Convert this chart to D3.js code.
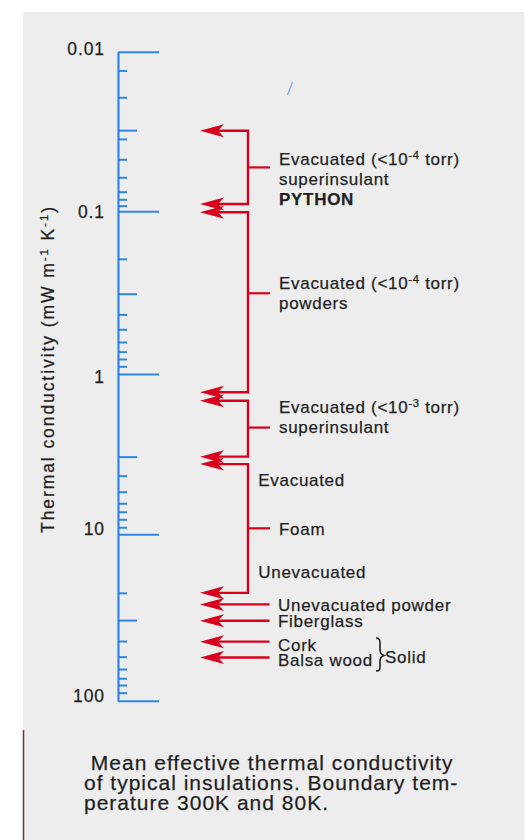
<!DOCTYPE html>
<html>
<head>
<meta charset="utf-8">
<script src="https://cdn.jsdelivr.net/npm/d3@7"></script>
<style>
  html, body { margin: 0; padding: 0; background: #fff; }
  svg { display: block; }
</style>
</head>
<body>
<svg id="chart" width="531" height="840"></svg>
<script>
// ---- Data: thermal conductivity (mW m^-1 K^-1), log scale ----
const majorTicks  = [0.01, 0.1, 1, 10, 100];
const majorLabels = ["0.01", "0.1", "1", "10", "100"];
const midTicks    = [0.031, 0.321, 3.28, 32.8];
const minorTicks  = [0.0131, 0.0193, 0.0352, 0.0472, 0.0612, 0.0754, 0.0841, 0.0922,
                     0.196, 0.430, 0.531, 0.636, 0.729, 0.809, 0.897,
                     4.31, 5.43, 6.41, 7.24, 8.07, 9.05,
                     22.5, 43.8, 54.4, 64.5, 73.3, 80.5, 89.5];

// Bracketed ranges (low / high end of each insulation class, and where its label points)
const groupLow  = [0.0313, 0.1014, 1.47, 3.65];
const groupHigh = [0.090, 1.30, 3.28, 22.5];
const groupMid  = [0.0531, 0.319, 2.16, 9.19];
const groupLabels = [
  ["Evacuated (<10^{-4} torr)", "superinsulant", "**PYTHON"],
  ["Evacuated (<10^{-4} torr)", "powders"],
  ["Evacuated (<10^{-3} torr)", "superinsulant"],
  ["Foam"]
];
const foamEnds = ["Evacuated", "Unevacuated"];

// Single-valued materials
const singleValues = [26.4, 33.1, 44.2, 55.0];
const singleLabels = ["Unevacuated powder", "Fiberglass", "Cork", "Balsa wood"];
const solidLabel = "Solid";

const axisTitle = "Thermal conductivity (mW m^{-1} K^{-1})";
const captionLines = [
  " Mean effective thermal conductivity",
  "of typical insulations. Boundary tem-",
  "perature 300K and 80K."
];

// ---- Drawing ----
const FONT = "'Liberation Sans', Arial, Helvetica, sans-serif";
const BLUE = "#2f86e6", RED = "#d8001c", INK = "#1f1f1f";

const svg = d3.select("#chart").style("font-family", FONT);

// paper background
svg.append("rect").attr("x", 23).attr("y", 12).attr("width", 501).attr("height", 828)
  .attr("fill", "#ededed");
svg.append("line").attr("x1", 23.5).attr("x2", 23.5).attr("y1", 730).attr("y2", 840)
  .attr("stroke", "#6b3b2c").attr("stroke-width", 1.5);

const y = d3.scaleLog().domain(majorTicks).range([51.7, 211.3, 374, 534.2, 700.7]);

// text with ^{...} superscripts and ** bold prefix
function rich(sel, str) {
  if (str.startsWith("**")) { sel.attr("font-weight", "bold"); str = str.slice(2); }
  const parts = str.split(/(\^\{[^}]*\})/).filter(s => s.length);
  let raised = false;
  parts.forEach(p => {
    if (p.startsWith("^{")) {
      sel.append("tspan").attr("dy", -6).attr("font-size", "0.66em").text(p.slice(2, -1));
      raised = true;
    } else {
      const t = sel.append("tspan").text(p);
      if (raised) { t.attr("dy", 6); raised = false; }
    }
  });
  return sel;
}

// axis
const axisX = 118;
function axisLayer(values, len) {
  const g = svg.append("g").attr("transform", `translate(${axisX},0)`)
    .call(d3.axisRight(y).tickValues(values).tickSize(len).tickSizeOuter(0).tickFormat(""));
  g.selectAll(".tick line").attr("stroke", BLUE).attr("stroke-width", 2);
  return g;
}
const gMajor = axisLayer(majorTicks, 41);
gMajor.select(".domain").attr("stroke", BLUE).attr("stroke-width", 2.2);
axisLayer(midTicks, 19).select(".domain").remove();
axisLayer(minorTicks, 9).select(".domain").remove();

const labelNudge = [3.3, 7, 8.5, 1, 1];
svg.append("g").attr("stroke", INK).attr("stroke-width", 0.25)
  .selectAll("text").data(majorTicks).join("text")
  .attr("x", 105).attr("y", (d, i) => y(d) + labelNudge[i])
  .attr("text-anchor", "end").attr("font-size", 17.5).attr("letter-spacing", 0.9)
  .attr("fill", INK).text((d, i) => majorLabels[i]);

// axis title
const title = svg.append("text")
  .attr("transform", "translate(54,369) rotate(-90)")
  .attr("text-anchor", "middle").attr("font-size", 17.5).attr("fill", INK)
  .attr("stroke", INK).attr("stroke-width", 0.25);
rich(title, axisTitle);
{
  const natural = title.node().getComputedTextLength();
  const n = title.text().length;
  title.attr("letter-spacing", ((328 - natural) / n).toFixed(2));
}

// stray pen mark
svg.append("line").attr("x1", 287.5).attr("y1", 95).attr("x2", 292.5).attr("y2", 82)
  .attr("stroke", "#7aa6ee").attr("stroke-width", 1.2);

// arrows
const tipX = 200, bracketX = 248, singleEnd = 269.5;
function head(g, yy) {
  g.append("path")
    .attr("d", `M${tipX},${yy} L${tipX + 24},${yy - 6.5} L${tipX + 18},${yy} L${tipX + 24},${yy + 6.5} Z`)
    .attr("fill", RED);
}
const gArr = svg.append("g");

groupLow.forEach((lo, i) => {
  const y0 = y(lo), y1 = y(groupHigh[i]), ym = y(groupMid[i]);
  gArr.append("path")
    .attr("d", `M${tipX + 14},${y0} H${bracketX} V${y1} H${tipX + 14}`)
    .attr("fill", "none").attr("stroke", RED).attr("stroke-width", 2.4);
  gArr.append("line").attr("x1", bracketX).attr("x2", 270).attr("y1", ym).attr("y2", ym)
    .attr("stroke", RED).attr("stroke-width", 2.2);
  head(gArr, y0); head(gArr, y1);
});

singleValues.forEach(v => {
  const yy = y(v);
  gArr.append("line").attr("x1", tipX + 14).attr("x2", singleEnd).attr("y1", yy).attr("y2", yy)
    .attr("stroke", RED).attr("stroke-width", 2.4);
  head(gArr, yy);
});

// labels
const gLab = svg.append("g").attr("fill", INK).attr("font-size", 17).attr("letter-spacing", 0.7)
  .attr("stroke", INK).attr("stroke-width", 0.25);
const blockShift = [-2, -4, -14.4, 6.6];
groupLabels.forEach((lines, i) => {
  lines.forEach((s, j) => {
    const t = gLab.append("text").attr("x", 279)
      .attr("y", y(groupMid[i]) + blockShift[i] + j * 19.8);
    rich(t, s);
  });
});
gLab.append("text").attr("x", 258.3).attr("y", y(groupLow[3]) + 22).text(foamEnds[0]);
gLab.append("text").attr("x", 258.3).attr("y", y(groupHigh[3]) - 15).text(foamEnds[1]);

const singleNudge = [6.5, 6.6, 9, 8.4];
singleValues.forEach((v, i) => {
  gLab.append("text").attr("x", 278).attr("y", y(v) + singleNudge[i]).text(singleLabels[i]);
});

// brace grouping the solids
svg.append("path")
  .attr("d", "M376,638 C380.5,638 380,641 380,646 L380,650 C380,653 381,654.5 384,655.5 C381,656.5 380,658 380,661 L380,665 C380,669 380.5,671 376,671")
  .attr("fill", "none").attr("stroke", INK).attr("stroke-width", 1.6);
gLab.append("text").attr("x", 385).attr("y", 662.7).text(solidLabel);

// caption
const gCap = svg.append("g").attr("fill", INK).attr("font-size", 21).attr("letter-spacing", 1)
  .attr("stroke", INK).attr("stroke-width", 0.25);
captionLines.forEach((s, i) => {
  gCap.append("text").attr("x", 84).attr("y", 770 + i * 20).attr("xml:space", "preserve").text(s);
});
</script>
</body>
</html>
